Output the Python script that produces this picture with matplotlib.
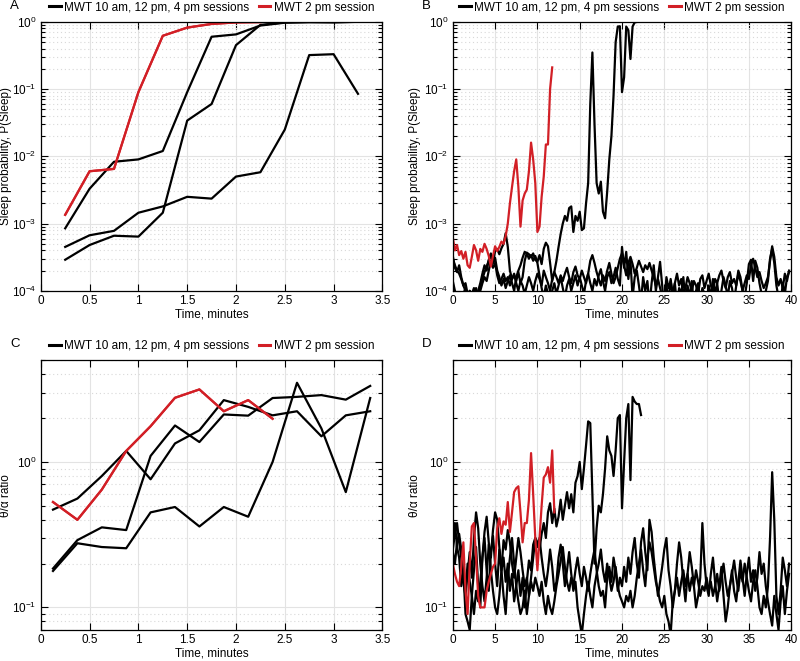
import matplotlib
matplotlib.use('Agg')
import matplotlib.pyplot as plt
import numpy as np
from matplotlib.ticker import LogLocator, NullFormatter, MultipleLocator, FuncFormatter

plt.rcParams['font.family'] = ['Liberation Sans', 'DejaVu Sans']
plt.rcParams['mathtext.fontset'] = 'custom'
plt.rcParams['mathtext.rm'] = 'Liberation Sans'
plt.rcParams['mathtext.it'] = 'Liberation Sans:italic'
plt.rcParams['font.size'] = 8.5

RED = '#d21f26'
STEP = 0.25  # epoch length, minutes

# ---- panel A: sleep probability, short MWT sessions ----
a_red_t = [0.25, 0.5, 0.75, 1.0, 1.25, 1.5, 1.75, 2.0, 2.25]
a_red = [1.35e-3, 6e-3, 6.5e-3, 9e-2, 0.62, 0.82, 0.93, 0.98, 0.99]
a_blk_t = [0.25, 0.5, 0.75, 1.0, 1.25, 1.5, 1.75, 2.0, 2.25, 2.5, 2.75, 3.0, 3.25]
a_blk1 = [8.5e-4, 3.3e-3, 8.3e-3, 9e-3, 1.2e-2, 9e-2, 0.6, 0.65, 0.88, 0.97, 0.99, 0.99, 1.0]
a_blk2 = [2.9e-4, 4.8e-4, 6.6e-4, 6.4e-4, 1.45e-3, 3.4e-2, 6e-2, 0.45, 0.9, 0.98, 0.99, 0.98, 1.0]
a_blk3 = [4.5e-4, 6.7e-4, 7.8e-4, 1.45e-3, 1.8e-3, 2.5e-3, 2.35e-3, 5e-3, 5.8e-3, 2.5e-2, 0.32, 0.33, 0.085]

# ---- panel C: theta/alpha ratio, short MWT sessions ----
c_red_t = [0.125, 0.375, 0.625, 0.875, 1.125, 1.375, 1.625, 1.875, 2.125, 2.375]
c_red = [0.53, 0.40, 0.645, 1.19, 1.76, 2.76, 3.15, 2.23, 2.66, 1.98]
c_blk_t = [0.125, 0.375, 0.625, 0.875, 1.125, 1.375, 1.625, 1.875, 2.125, 2.375, 2.625, 2.875, 3.125, 3.375]
c_blk1 = [0.47, 0.56, 0.80, 1.19, 0.76, 1.34, 1.65, 2.66, 2.39, 2.09, 2.23, 1.50, 2.09, 2.23]
c_blk2 = [0.185, 0.29, 0.355, 0.34, 1.10, 1.78, 1.37, 2.12, 2.08, 2.75, 2.80, 2.88, 2.68, 3.33]
c_blk3 = [0.178, 0.276, 0.26, 0.255, 0.45, 0.49, 0.36, 0.49, 0.42, 1.0, 3.5, 1.7, 0.62, 2.75]

# ---- panel B: sleep probability, long sessions (units of 1e-4) ----
b_red = [6.2, 4.0, 4.8, 3.4, 3.9, 3.0, 3.8, 2.4, 2.2, 3.2, 4.8, 4.0, 2.8, 4.2, 3.8, 5.0,
         4.2, 3.3, 2.3, 3.3, 4.6, 3.9, 4.5, 5.4, 5.0, 6.5, 10, 20, 35, 60, 90, 35,
         9.0, 22, 28, 32, 60, 160, 90, 40, 7.5, 9.0, 25, 50, 150, 150, 1000, 2100]
b_blk1 = [3.3, 2.2, 1.9, 2.4, 1.6, 1.2, 1.0, 0.8, 1.0,
          0.9, 1.1, 0.8, 1.0, 1.3, 1.8, 2.4, 2.0,
          2.9, 3.6, 2.6, 3.9, 4.2, 3.5, 4.3, 5.0,
          7.2, 4.5, 2.0, 1.5, 1.7, 1.4, 1.9, 1.3,
          1.6, 2.8, 3.7, 3.5, 3.2, 3.6, 2.9, 2.7,
          3.4, 2.5, 4.2, 5.2, 4.6, 2.6, 1.4, 1.9,
          2.8, 4.5, 7.0, 10, 13, 11, 17, 18,
          7.5, 13, 11, 15, 8.0, 8.5, 20, 40,
          600, 3500, 300, 40, 28, 42, 15, 12,
          30, 90, 200, 800, 5000, 8500, 8600, 900,
          1500, 8500, 7500, 2800, 8500, 9800, 9950, 10000, 10000]
b_blk2 = [1.4, 1.0, 0.7, 0.8, 0.6, 0.9, 1.1, 0.8, 1.0, 0.7, 0.9, 1.1, 0.8, 1.0, 1.3, 1.6, 1.4, 2.0, 2.8, 2.2,
          2.6, 1.7, 1.3, 1.5, 1.8, 1.4, 1.6, 1.2, 1.5, 1.8, 1.3, 1.0, 1.4, 1.2, 0.9, 1.2, 1.6, 1.3, 1.0, 1.4,
          1.8, 1.5, 1.2, 2.0, 1.6, 1.3, 1.0, 1.5, 1.9, 1.6, 1.3, 1.7, 1.4, 1.8, 2.2, 1.6, 1.3, 1.9, 2.3, 1.7,
          1.5, 2.0, 1.6, 1.3, 1.8, 2.8, 3.4, 2.6, 1.9, 1.5, 1.2, 1.7, 1.4, 2.0, 2.6, 1.8, 1.3, 1.6, 2.2, 3.0,
          3.6, 2.4, 1.7, 2.6, 3.2, 2.5, 1.8, 2.2, 2.8, 2.3, 1.9, 2.4, 2.1, 2.6, 2.0, 1.6, 1.2, 1.5, 1.1, 0.8,
          0.6, 1.6, 1.1, 1.4, 0.9, 1.3, 1.8, 1.2, 1.5, 0.9, 1.1, 1.6, 1.3, 1.0, 1.4, 1.2, 0.9, 1.5, 1.7, 1.1,
          1.4, 1.8, 1.2, 1.0, 1.5, 1.3, 1.7, 2.0, 1.4, 1.1, 1.6, 1.9, 1.3, 1.5, 1.2, 1.8, 1.4, 1.0, 1.3, 1.7,
          1.5, 2.4, 3.0, 2.2, 1.6, 1.9, 1.4, 1.1, 1.3, 1.6, 2.8, 4.6, 3.2, 1.6, 1.2, 1.5, 1.1, 1.8, 1.4, 2.0]
b_blk3 = [3.0, 2.4, 2.0, 1.8, 1.5, 1.2, 1.3, 0.9, 0.7, 0.6, 0.8, 0.6, 0.9, 1.2, 1.5, 1.9, 2.3, 2.8, 3.4, 2.6,
          3.1, 2.0, 1.6, 1.2, 1.5, 1.1, 1.4, 1.7, 1.3, 1.0, 1.6, 2.0, 2.4, 3.1, 3.8, 3.6, 3.0, 3.4, 2.8, 3.3,
          2.6, 1.7, 1.1, 0.8, 1.2, 0.9, 0.7, 1.0, 1.3, 0.9, 1.2, 1.6, 1.1, 0.8, 1.2, 1.5, 1.0, 1.3, 1.7, 1.2,
          1.6, 1.2, 0.9, 1.4, 1.8, 1.3, 1.0, 1.5, 1.2, 1.7, 2.1, 1.4, 1.0, 1.6, 1.9, 1.3, 1.6, 2.2, 1.5, 1.2,
          4.5, 2.2, 3.8, 1.5, 2.8, 0.8, 1.6, 2.0, 1.2, 0.7, 1.6, 1.0, 1.4, 0.6, 1.3, 2.4, 1.0, 1.6, 2.7, 1.2,
          0.5, 1.2, 0.7, 1.5, 0.8, 1.3, 0.6, 1.1, 0.9, 1.6, 0.7, 1.2, 0.8, 1.4, 0.6, 1.0, 1.3, 0.7, 1.1, 0.9,
          0.6, 1.2, 0.8, 1.5, 0.9, 1.3, 0.7, 1.0, 1.6, 1.2, 0.8, 1.4, 1.1, 0.7, 1.2, 2.0, 1.6, 1.0, 0.8, 1.3,
          2.5, 2.9, 1.4, 2.8, 2.2, 1.3, 0.9, 0.7, 1.0, 1.4, 3.0, 4.2, 2.6, 1.2, 0.8, 0.6, 1.3, 0.9, 1.6, 1.9]

# ---- panel D: theta/alpha ratio, long sessions ----
d_red = [0.20, 0.17, 0.15, 0.14, 0.19, 0.28, 0.13, 0.09, 0.20, 0.36, 0.38, 0.22, 0.12, 0.10, 0.10, 0.10,
         0.13, 0.15, 0.17, 0.19, 0.20, 0.35, 0.41, 0.32, 0.39, 0.37, 0.53, 0.33, 0.45, 0.62, 0.66, 0.68,
         0.45, 0.28, 0.38, 0.38, 0.55, 1.15, 0.60, 0.30, 0.18, 0.30, 0.50, 0.78, 0.82, 0.92, 0.72, 1.20, 0.45]
d_blk1 = [0.25, 0.32, 0.38, 0.28, 0.22, 0.15, 0.12, 0.17, 0.24, 0.16, 0.30, 0.45, 0.35, 0.20, 0.14, 0.11, 0.16, 0.27, 0.22, 0.34,
          0.45, 0.40, 0.26, 0.18, 0.22, 0.15, 0.20, 0.13, 0.17, 0.11, 0.14, 0.18, 0.12, 0.16, 0.10, 0.15, 0.21, 0.18, 0.27, 0.30,
          0.28, 0.25, 0.32, 0.38, 0.30, 0.45, 0.52, 0.38, 0.48, 0.36, 0.42, 0.55, 0.40, 0.50, 0.62, 0.48, 0.60, 0.45, 0.72, 0.80,
          1.00, 0.65, 0.90, 1.30, 1.90, 1.85, 0.60, 0.20, 0.35, 0.50, 0.45, 0.60, 0.90, 1.50, 1.20, 1.10, 0.80, 1.20, 2.00, 2.10,
          0.48, 1.00, 2.00, 2.50, 0.75, 2.80, 2.60, 2.50, 2.50, 2.10]
d_blk2 = [0.30, 0.38, 0.26, 0.22, 0.14, 0.18, 0.09, 0.08, 0.07, 0.12, 0.18, 0.26, 0.14, 0.10, 0.22, 0.30, 0.18, 0.13, 0.24, 0.31,
          0.20, 0.14, 0.25, 0.18, 0.12, 0.09, 0.16, 0.22, 0.30, 0.20, 0.14, 0.11, 0.09, 0.10, 0.13, 0.09, 0.12, 0.16, 0.22, 0.30,
          0.26, 0.30, 0.22, 0.17, 0.14, 0.18, 0.25, 0.19, 0.13, 0.15, 0.22, 0.27, 0.20, 0.14, 0.18, 0.24, 0.17, 0.13, 0.15, 0.10,
          0.08, 0.065, 0.09, 0.12, 0.15, 0.12, 0.10, 0.14, 0.17, 0.20, 0.25, 0.18, 0.15, 0.20, 0.16, 0.13, 0.15, 0.19, 0.14, 0.12,
          0.11, 0.10, 0.12, 0.11, 0.13, 0.10, 0.12, 0.16, 0.20, 0.25, 0.18, 0.14, 0.22, 0.28, 0.24, 0.19, 0.15, 0.13, 0.11, 0.10,
          0.12, 0.09, 0.08, 0.065, 0.11, 0.13, 0.16, 0.12, 0.15, 0.18, 0.14, 0.17, 0.13, 0.16, 0.14, 0.18, 0.15, 0.12, 0.14, 0.13,
          0.16, 0.13, 0.15, 0.12, 0.14, 0.17, 0.13, 0.16, 0.20, 0.15, 0.12, 0.14, 0.17, 0.21, 0.16, 0.13, 0.18, 0.15, 0.20, 0.16,
          0.13, 0.11, 0.15, 0.18, 0.14, 0.10, 0.09, 0.12, 0.10, 0.14, 0.30, 0.85, 0.40, 0.12, 0.09, 0.13, 0.22, 0.18, 0.14, 0.20]
d_blk3 = [0.24, 0.20, 0.28, 0.32, 0.25, 0.17, 0.13, 0.20, 0.15, 0.12, 0.09, 0.13, 0.11, 0.15, 0.22, 0.33, 0.42, 0.28, 0.18, 0.13,
          0.10, 0.09, 0.12, 0.18, 0.29, 0.25, 0.34, 0.28, 0.20, 0.16, 0.22, 0.30, 0.24, 0.18, 0.14, 0.16, 0.12, 0.15, 0.13, 0.16,
          0.14, 0.12, 0.15, 0.11, 0.09, 0.12, 0.10, 0.09, 0.11, 0.14, 0.17, 0.21, 0.26, 0.19, 0.15, 0.13, 0.16, 0.14, 0.18, 0.22,
          0.17, 0.14, 0.19, 0.16, 0.13, 0.17, 0.21, 0.25, 0.18, 0.14, 0.12, 0.13, 0.10, 0.16, 0.19, 0.15, 0.22, 0.18, 0.13, 0.16,
          0.14, 0.19, 0.15, 0.22, 0.17, 0.24, 0.30, 0.20, 0.16, 0.28, 0.35, 0.24, 0.18, 0.40, 0.33, 0.22, 0.16, 0.12, 0.15, 0.19,
          0.25, 0.30, 0.18, 0.14, 0.10, 0.13, 0.20, 0.28, 0.22, 0.15, 0.11, 0.17, 0.24, 0.19, 0.14, 0.10, 0.12, 0.16, 0.38, 0.20,
          0.14, 0.12, 0.17, 0.22, 0.15, 0.11, 0.14, 0.19, 0.12, 0.08, 0.10, 0.14, 0.18, 0.13, 0.11, 0.15, 0.21, 0.16, 0.12, 0.17,
          0.22, 0.15, 0.18, 0.13, 0.16, 0.24, 0.17, 0.20, 0.14, 0.11, 0.09, 0.075, 0.12, 0.09, 0.07, 0.11, 0.14, 0.09, 0.13, 0.17]

LEG_BLACK = 'MWT 10 am, 12 pm, 4 pm sessions'
LEG_RED = 'MWT 2 pm session'


def epoch_times(vals):
    return np.arange(len(vals)) * STEP


def style_axis(ax, xmax, xstep, ylim, ylabel, letter, label_x):
    ax.set_yscale('log')
    ax.set_xlim(0, xmax)
    ax.set_ylim(*ylim)
    ax.xaxis.set_major_locator(MultipleLocator(xstep))
    ax.xaxis.set_major_formatter(FuncFormatter(lambda v, p: '%g' % v))
    ax.yaxis.set_major_locator(LogLocator(base=10, numticks=10))
    ax.yaxis.set_minor_locator(LogLocator(base=10, subs=np.arange(2, 10), numticks=10))
    ax.yaxis.set_minor_formatter(NullFormatter())
    ax.tick_params(which='both', direction='in', top=True, right=True, labelsize=8.5, pad=3)
    ax.tick_params(which='major', length=5, width=0.8)
    ax.tick_params(which='minor', length=3, width=0.8)
    ax.grid(True, which='major', color='#e3e3e3', lw=0.8, ls='-')
    ax.grid(True, which='minor', axis='y', color='#d8d8d8', lw=0.8, ls=(0, (1, 2.5)))
    ax.set_axisbelow(True)
    for s in ax.spines.values():
        s.set_linewidth(0.9)
    ax.set_xlabel('Time, minutes', labelpad=1)
    ax.set_ylabel(ylabel)
    ax.yaxis.set_label_coords(label_x, 0.5)
    leg = ax.legend(loc='lower center', bbox_to_anchor=(0.5, 1.0), ncol=2, frameon=False,
                    handlelength=1.0, handletextpad=0.3, columnspacing=0.8,
                    borderaxespad=0.3, fontsize=8.5)
    for line in leg.get_lines():
        line.set_linewidth(2.2)
    ax.text(-0.09, 1.06, letter, transform=ax.transAxes, fontsize=9.5, va='center', ha='left')


fig = plt.figure(figsize=(8.0, 6.61), dpi=100)
axA = fig.add_axes([0.051, 0.560, 0.427, 0.407])
axB = fig.add_axes([0.566, 0.560, 0.423, 0.407])
axC = fig.add_axes([0.051, 0.047, 0.427, 0.408])
axD = fig.add_axes([0.566, 0.047, 0.423, 0.408])

LW = 1.6

# A
axA.plot(a_blk_t, a_blk1, color='black', lw=LW, label=LEG_BLACK)
axA.plot(a_red_t, a_red, color=RED, lw=LW, label=LEG_RED)
axA.plot(a_blk_t, a_blk2, color='black', lw=LW)
axA.plot(a_blk_t, a_blk3, color='black', lw=LW)
axA.plot(a_red_t, a_red, color=RED, lw=LW)
style_axis(axA, 3.5, 0.5, (1e-4, 1.0), 'Sleep probability, P(Sleep)', 'A', -0.083)

# B
for vals in (b_blk1, b_blk2, b_blk3):
    v = np.array(vals) * 1e-4
    axB.plot(epoch_times(v), v, color='black', lw=LW,
             label=LEG_BLACK if vals is b_blk1 else None)
rv = np.array(b_red) * 1e-4
axB.plot(epoch_times(rv), rv, color=RED, lw=LW, label=LEG_RED)
style_axis(axB, 40, 5, (1e-4, 1.0), 'Sleep probability, P(Sleep)', 'B', -0.094)

# C
axC.plot(c_blk_t, c_blk1, color='black', lw=LW, label=LEG_BLACK)
axC.plot(c_red_t, c_red, color=RED, lw=LW, label=LEG_RED)
axC.plot(c_blk_t, c_blk2, color='black', lw=LW)
axC.plot(c_blk_t, c_blk3, color='black', lw=LW)
axC.plot(c_red_t, c_red, color=RED, lw=LW)
style_axis(axC, 3.5, 0.5, (0.07, 5.0), 'θ/α ratio', 'C', -0.083)

# D
for vals in (d_blk1, d_blk2, d_blk3):
    axD.plot(epoch_times(vals), vals, color='black', lw=LW,
             label=LEG_BLACK if vals is d_blk1 else None)
axD.plot(epoch_times(d_red), d_red, color=RED, lw=LW, label=LEG_RED)
style_axis(axD, 40, 5, (0.07, 5.0), 'θ/α ratio', 'D', -0.094)

fig.savefig('out.png', dpi=100)
